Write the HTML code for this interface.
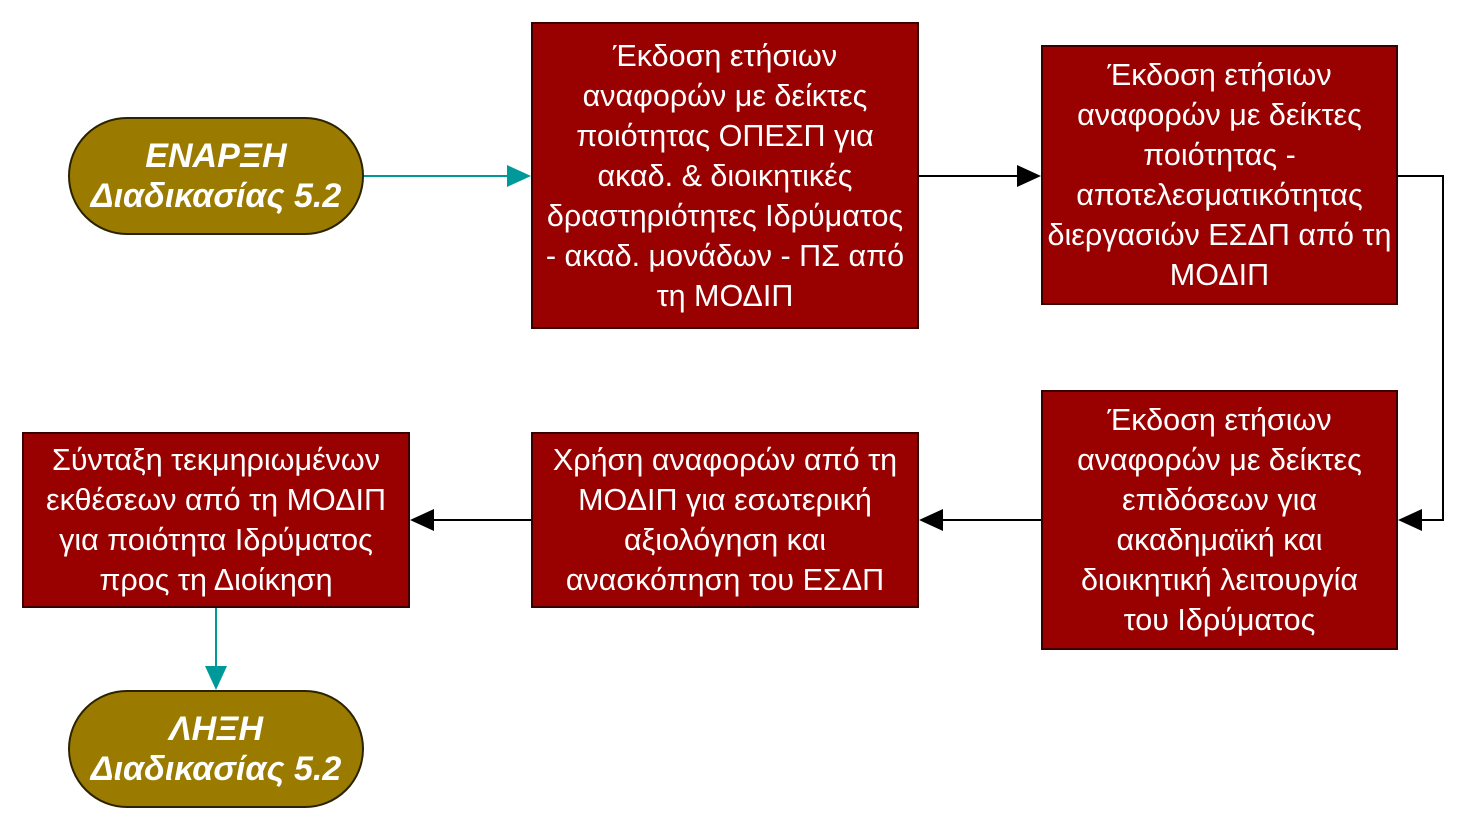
<!DOCTYPE html>
<html><head><meta charset="utf-8"><style>
body{margin:0;width:1465px;height:832px;background:#fff;position:relative;overflow:hidden;font-family:"Liberation Sans","DejaVu Sans",sans-serif;}
.b{position:absolute;background:#990000;border:2px solid #3a0000;box-sizing:border-box;color:#fff;font-size:30.5px;line-height:40px;text-align:center;display:flex;align-items:center;justify-content:center;white-space:nowrap;}
.p{position:absolute;background:#9a7b00;border:2px solid #2a2200;box-sizing:border-box;border-radius:60px;color:#fff;font-size:34px;line-height:40px;font-weight:bold;font-style:italic;text-align:center;display:flex;align-items:center;justify-content:center;white-space:nowrap;}
svg{position:absolute;left:0;top:0}
</style></head><body>
<svg width="1465" height="832">
<line x1="364" y1="176" x2="510" y2="176" stroke="#009999" stroke-width="2"/>
<path d="M507,165 L531,176 L507,187z" fill="#009999"/>
<line x1="919" y1="176" x2="1020" y2="176" stroke="#000" stroke-width="2"/>
<path d="M1017,165 L1041,176 L1017,187z" fill="#000"/>
<polyline points="1398,176 1443,176 1443,520 1420,520" fill="none" stroke="#000" stroke-width="2"/>
<path d="M1422,509 L1398,520 L1422,531z" fill="#000"/>
<line x1="1041" y1="520" x2="940" y2="520" stroke="#000" stroke-width="2"/>
<path d="M943,509 L919,520 L943,531z" fill="#000"/>
<line x1="531" y1="520" x2="430" y2="520" stroke="#000" stroke-width="2"/>
<path d="M434,509 L410,520 L434,531z" fill="#000"/>
<line x1="216" y1="608" x2="216" y2="670" stroke="#009999" stroke-width="2"/>
<path d="M205,666 L216,690 L227,666z" fill="#009999"/>
</svg>
<div class="p" style="left:68px;top:117px;width:296px;height:118px">ΕΝΑΡΞΗ<br>Διαδικασίας 5.2</div>
<div class="b" style="left:531px;top:22px;width:388px;height:307px">Έκδοση ετήσιων<br>αναφορών με δείκτες<br>ποιότητας ΟΠΕΣΠ για<br>ακαδ. &amp; διοικητικές<br>δραστηριότητες Ιδρύματος<br>- ακαδ. μονάδων - ΠΣ από<br>τη ΜΟΔΙΠ</div>
<div class="b" style="left:1041px;top:45px;width:357px;height:260px">Έκδοση ετήσιων<br>αναφορών με δείκτες<br>ποιότητας -<br>αποτελεσματικότητας<br>διεργασιών ΕΣΔΠ από τη<br>ΜΟΔΙΠ</div>
<div class="b" style="left:1041px;top:390px;width:357px;height:260px">Έκδοση ετήσιων<br>αναφορών με δείκτες<br>επιδόσεων για<br>ακαδημαϊκή και<br>διοικητική λειτουργία<br>του Ιδρύματος</div>
<div class="b" style="left:531px;top:432px;width:388px;height:176px">Χρήση αναφορών από τη<br>ΜΟΔΙΠ για εσωτερική<br>αξιολόγηση και<br>ανασκόπηση του ΕΣΔΠ</div>
<div class="b" style="left:22px;top:432px;width:388px;height:176px">Σύνταξη τεκμηριωμένων<br>εκθέσεων από τη ΜΟΔΙΠ<br>για ποιότητα Ιδρύματος<br>προς τη Διοίκηση</div>
<div class="p" style="left:68px;top:690px;width:296px;height:118px">ΛΗΞΗ<br>Διαδικασίας 5.2</div>
</body></html>
